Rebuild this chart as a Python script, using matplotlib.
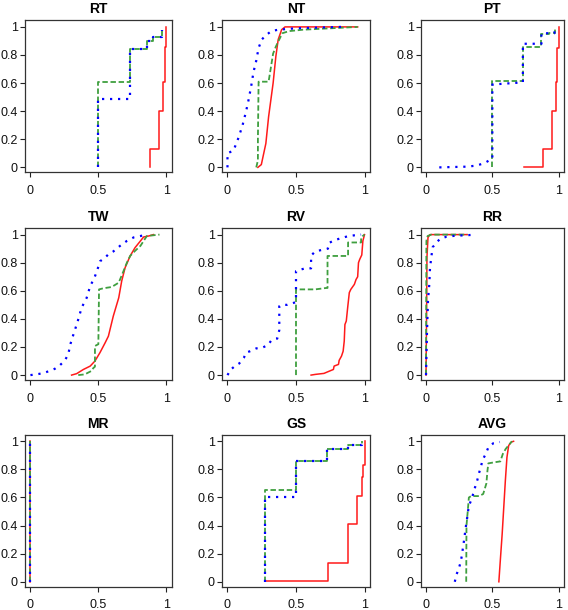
import matplotlib
matplotlib.use("Agg")
from matplotlib import pyplot as plt

plt.rcParams["font.family"] = ["Liberation Sans", "DejaVu Sans"]

titles = ["RT", "NT", "PT", "TW", "RV", "RR", "MR", "GS", "AVG"]
x_ticks = [0, 0.5, 1]
x_tick_labels = ["0", "0.5", "1"]
y_ticks = [0, 0.2, 0.4, 0.6, 0.8, 1]
y_tick_labels = ["0", "0.2", "0.4", "0.6", "0.8", "1"]

# step curves: (jump positions, level after jump), first point is the start at 0
rt_red_x = [0.88, 0.88, 0.95, 0.975, 0.99, 1.0]
rt_red_y = [0.0, 0.13, 0.40, 0.61, 0.86, 1.0]
rt_green_x = [0.5, 0.5, 0.73, 0.86, 0.90, 0.97]
rt_green_y = [0.0, 0.61, 0.84, 0.90, 0.93, 0.98]
rt_blue_x = [0.5, 0.5, 0.73, 0.86, 0.90, 0.97]
rt_blue_y = [0.0, 0.49, 0.84, 0.90, 0.93, 0.98]

# smooth curves: plain polylines
nt_red_x = [0.222, 0.247, 0.28, 0.30, 0.333, 0.353, 0.37, 0.395, 0.42, 0.95]
nt_red_y = [0.0, 0.02, 0.17, 0.36, 0.60, 0.79, 0.91, 0.98, 1.0, 1.0]
nt_green_x = [0.21, 0.222, 0.222, 0.227, 0.30, 0.333, 0.353, 0.40, 0.45, 0.55, 0.95]
nt_green_y = [0.0, 0.05, 0.20, 0.61, 0.61, 0.81, 0.86, 0.955, 0.97, 0.98, 1.0]
nt_blue_x = [0.0, 0.0, 0.044, 0.08, 0.11, 0.136, 0.156, 0.175, 0.19, 0.21, 0.227,
             0.25, 0.28, 0.32, 0.37, 0.5, 0.83]
nt_blue_y = [0.0, 0.10, 0.12, 0.21, 0.30, 0.40, 0.49, 0.59, 0.68, 0.76, 0.85,
             0.91, 0.94, 0.97, 0.98, 0.99, 1.0]

pt_red_x = [0.74, 0.88, 0.95, 0.978, 0.99, 1.0]
pt_red_y = [0.005, 0.13, 0.40, 0.61, 0.85, 1.0]
pt_green_x = [0.5, 0.5, 0.73, 0.87, 0.93, 0.97]
pt_green_y = [0.0, 0.615, 0.86, 0.95, 0.955, 0.99]
pt_blue_x = [0.10, 0.30, 0.377, 0.44, 0.49, 0.5, 0.5, 0.73, 0.73, 0.87, 0.87, 0.968, 0.968]
pt_blue_y = [0.0, 0.005, 0.012, 0.03, 0.057, 0.06, 0.59, 0.605, 0.88, 0.88, 0.955, 0.955, 0.99]

tw_red_x = [0.303, 0.34, 0.39, 0.44, 0.475, 0.512, 0.55, 0.574, 0.61, 0.65, 0.672,
            0.697, 0.734, 0.77, 0.81, 0.833, 0.87, 0.906]
tw_red_y = [0.0, 0.01, 0.04, 0.064, 0.10, 0.16, 0.23, 0.277, 0.42, 0.55, 0.67,
            0.765, 0.848, 0.907, 0.955, 0.983, 0.99, 1.0]
tw_green_x = [0.352, 0.40, 0.45, 0.463, 0.475, 0.475, 0.50, 0.505, 0.537, 0.598, 0.65,
              0.685, 0.71, 0.734, 0.77, 0.81, 0.857, 0.95]
tw_green_y = [0.0, 0.005, 0.03, 0.05, 0.06, 0.207, 0.22, 0.61, 0.618, 0.627, 0.658,
              0.74, 0.80, 0.848, 0.884, 0.92, 0.99, 1.0]
tw_blue_x = [0.0, 0.044, 0.094, 0.143, 0.18, 0.217, 0.254, 0.278, 0.296, 0.32, 0.345,
             0.377, 0.414, 0.44, 0.47, 0.493, 0.512, 0.55, 0.574, 0.61, 0.66, 0.71,
             0.76, 0.81, 0.857]
tw_blue_y = [0.0, 0.005, 0.014, 0.03, 0.045, 0.07, 0.105, 0.147, 0.226, 0.30, 0.373,
             0.48, 0.55, 0.634, 0.69, 0.75, 0.81, 0.836, 0.86, 0.88, 0.92, 0.955,
             0.98, 0.99, 1.0]

rv_red_x = [0.61, 0.642, 0.704, 0.748, 0.773, 0.778, 0.81, 0.815, 0.832, 0.844, 0.852,
            0.857, 0.867, 0.877, 0.889, 0.90, 0.926, 0.938, 0.95, 0.956, 0.965, 0.98,
            0.988, 1.0]
rv_red_y = [0.0, 0.005, 0.012, 0.03, 0.04, 0.064, 0.076, 0.105, 0.135, 0.17, 0.242,
            0.36, 0.385, 0.48, 0.587, 0.61, 0.646, 0.68, 0.70, 0.80, 0.824, 0.855,
            0.955, 1.0]
rv_green_x = [0.5, 0.5, 0.64, 0.72, 0.73, 0.73, 0.88, 0.88, 0.975, 0.975, 1.0]
rv_green_y = [0.0, 0.61, 0.61, 0.62, 0.62, 0.848, 0.848, 0.944, 0.944, 0.98, 1.0]
rv_blue_x = [0.0, 0.025, 0.054, 0.086, 0.12, 0.136, 0.165, 0.21, 0.254, 0.296, 0.32,
             0.363, 0.373, 0.378, 0.378, 0.395, 0.437, 0.486, 0.5, 0.5, 0.53, 0.568,
             0.61, 0.61, 0.64, 0.684, 0.733, 0.74, 0.78, 0.827, 0.877, 0.926, 0.975]
rv_blue_y = [0.0, 0.04, 0.064, 0.083, 0.124, 0.16, 0.17, 0.19, 0.195, 0.214, 0.247,
             0.26, 0.30, 0.32, 0.49, 0.50, 0.50, 0.515, 0.52, 0.74, 0.75, 0.76,
             0.76, 0.85, 0.88, 0.89, 0.90, 0.94, 0.96, 0.974, 0.988, 0.995, 1.0]

rr_red_x = [0.0, 0.004, 0.007, 0.015, 0.03, 0.31]
rr_red_y = [0.0, 0.40, 0.836, 0.98, 1.0, 1.0]
rr_green_x = [0.0, 0.003, 0.012, 0.04, 0.31]
rr_green_y = [0.0, 0.955, 0.99, 1.0, 1.0]
rr_blue_x = [0.0, 0.007, 0.015, 0.025, 0.03, 0.04, 0.05, 0.076, 0.106, 0.155, 0.23,
             0.30, 0.377]
rr_blue_y = [0.0, 0.29, 0.53, 0.65, 0.76, 0.84, 0.91, 0.94, 0.97, 0.985, 0.993,
             0.995, 1.0]

mr_red_x = [0.0, 0.0]
mr_red_y = [0.0, 1.0]
mr_green_x = [0.0, 0.0]
mr_green_y = [0.0, 1.0]
mr_blue_x = [0.0, 0.0]
mr_blue_y = [0.0, 1.0]

gs_red_x = [0.271, 0.73, 0.88, 0.948, 0.978, 0.988, 1.0]
gs_red_y = [0.005, 0.133, 0.408, 0.609, 0.749, 0.83, 1.0]
gs_green_x = [0.271, 0.271, 0.5, 0.727, 0.88, 0.98]
gs_green_y = [0.0, 0.654, 0.858, 0.943, 0.975, 1.0]
gs_blue_x = [0.271, 0.271, 0.5, 0.727, 0.88, 0.98]
gs_blue_y = [0.0, 0.60, 0.858, 0.943, 0.975, 1.0]

avg_red_x = [0.549, 0.56, 0.574, 0.586, 0.598, 0.61, 0.623, 0.643, 0.66]
avg_red_y = [0.0, 0.152, 0.34, 0.53, 0.72, 0.886, 0.97, 0.995, 1.0]
avg_green_x = [0.303, 0.305, 0.315, 0.323, 0.34, 0.40, 0.431, 0.455, 0.463, 0.47,
               0.512, 0.56, 0.579, 0.60, 0.635, 0.648]
avg_green_y = [0.0, 0.40, 0.507, 0.60, 0.61, 0.61, 0.625, 0.70, 0.79, 0.843,
               0.85, 0.857, 0.91, 0.945, 0.986, 1.0]
avg_blue_x = [0.217, 0.229, 0.246, 0.261, 0.271, 0.278, 0.286, 0.293, 0.30, 0.308,
              0.315, 0.323, 0.34, 0.357, 0.372, 0.387, 0.40, 0.414, 0.426, 0.45,
              0.47, 0.507, 0.557]
avg_blue_y = [0.0, 0.05, 0.09, 0.14, 0.19, 0.24, 0.29, 0.34, 0.39, 0.44,
              0.49, 0.54, 0.58, 0.63, 0.68, 0.725, 0.775, 0.82, 0.866, 0.91,
              0.957, 0.986, 0.995]

panels = {
    "RT": [("step", rt_red_x, rt_red_y), ("step", rt_green_x, rt_green_y), ("step", rt_blue_x, rt_blue_y)],
    "NT": [("line", nt_red_x, nt_red_y), ("line", nt_green_x, nt_green_y), ("line", nt_blue_x, nt_blue_y)],
    "PT": [("step", pt_red_x, pt_red_y), ("step", pt_green_x, pt_green_y), ("line", pt_blue_x, pt_blue_y)],
    "TW": [("line", tw_red_x, tw_red_y), ("line", tw_green_x, tw_green_y), ("line", tw_blue_x, tw_blue_y)],
    "RV": [("line", rv_red_x, rv_red_y), ("line", rv_green_x, rv_green_y), ("line", rv_blue_x, rv_blue_y)],
    "RR": [("line", rr_red_x, rr_red_y), ("line", rr_green_x, rr_green_y), ("line", rr_blue_x, rr_blue_y)],
    "MR": [("line", mr_red_x, mr_red_y), ("line", mr_green_x, mr_green_y), ("line", mr_blue_x, mr_blue_y)],
    "GS": [("step", gs_red_x, gs_red_y), ("step", gs_green_x, gs_green_y), ("step", gs_blue_x, gs_blue_y)],
    "AVG": [("line", avg_red_x, avg_red_y), ("line", avg_green_x, avg_green_y), ("line", avg_blue_x, avg_blue_y)],
}

styles = [
    dict(color="#ff1a1a", linestyle="-", linewidth=1.1),
    dict(color="#3f9f3f", linestyle=(0, (3, 1.5)), linewidth=1.3),
    dict(color="#0000ff", linestyle=(0, (1, 2.6)), linewidth=1.6),
]

W, H = 568, 610
col_lr = [(25, 171.7), (222, 370), (420.7, 564)]
row_tb = [(20.3, 172.3), (228, 380), (434.7, 586.7)]

fig = plt.figure(figsize=(W / 100, H / 100), dpi=100)
for i, name in enumerate(titles):
    l, r = col_lr[i % 3]
    t, b = row_tb[i // 3]
    ax = fig.add_axes([l / W, 1 - b / H, (r - l) / W, (b - t) / H])
    for (kind, xs, ys), st in zip(panels[name], styles):
        if kind == "step":
            ax.step(xs, ys, where="post", **st)
        else:
            ax.plot(xs, ys, **st)
    ax.set_xlim(-0.04, 1.04)
    ax.set_ylim(-0.035, 1.047)
    ax.set_xticks(x_ticks)
    ax.set_xticklabels(x_tick_labels)
    ax.set_yticks(y_ticks)
    ax.set_yticklabels(y_tick_labels)
    ax.tick_params(axis="both", direction="out", length=3.6, width=0.8,
                   labelsize=9, color="#222222", labelcolor="#111111")
    ax.tick_params(axis="x", pad=5.5)
    ax.tick_params(axis="y", pad=1.5)
    for sp in ax.spines.values():
        sp.set_color("#333333")
        sp.set_linewidth(0.9)
    ax.set_title(name, fontsize=10, fontweight="bold", pad=5)

fig.savefig("out.png", dpi=100)
